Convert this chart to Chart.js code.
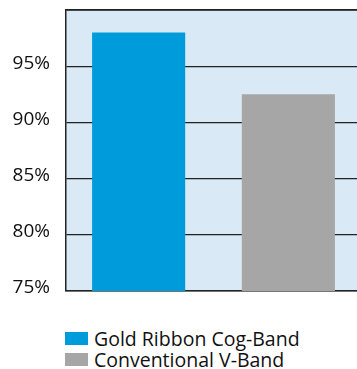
<!DOCTYPE html>
<html><head><meta charset="utf-8">
<script src="https://cdn.jsdelivr.net/npm/chart.js@4.4.1/dist/chart.umd.min.js"></script>
<style>
html,body{margin:0;padding:0;background:#fff;overflow:hidden;}
#wrap{position:relative;width:357px;height:369px;overflow:hidden;}
#cv{position:absolute;left:0;top:0;}
#legend{position:absolute;left:65px;top:328px;font-family:"Open Sans",sans-serif;font-size:19.5px;color:#111;line-height:21px;}
.item{display:flex;align-items:center;white-space:nowrap;}
.box{width:23px;height:13px;margin-right:6px;display:inline-block;}
</style></head>
<body>
<div id="wrap">
<div style="position:absolute;left:0;top:0;width:361px;height:300px;"><canvas id="cv" width="361" height="300"></canvas></div>
<div id="legend"></div>
</div>
<script>
const categories = [''];
const seriesNames = ['Gold Ribbon Cog-Band', 'Conventional V-Band'];
const cogBandValues = [98];
const vBandValues = [92.5];
const yTicks = [75, 80, 85, 90, 95, 100];
const colors = ['#009bdb', '#a6a6a6'];

const bgPlugin = {
  id: 'bg',
  beforeDraw(chart) {
    const a = chart.chartArea, ctx = chart.ctx;
    ctx.save();
    ctx.fillStyle = '#d9eaf6';
    ctx.fillRect(a.left, a.top, a.right - a.left, a.bottom - a.top);
    ctx.restore();
  },
  beforeDatasetsDraw(chart) {
    const a = chart.chartArea, ctx = chart.ctx;
    ctx.save();
    ctx.strokeStyle = '#222';
    ctx.lineWidth = 1.5;
    ctx.beginPath();
    ctx.moveTo(a.left, a.top);
    ctx.lineTo(a.right, a.top);
    ctx.stroke();
    ctx.restore();
  }
};

new Chart(document.getElementById('cv'), {
  type: 'bar',
  data: {
    labels: categories,
    datasets: [
      { label: seriesNames[0], data: cogBandValues, backgroundColor: colors[0] },
      { label: seriesNames[1], data: vBandValues, backgroundColor: colors[1] }
    ]
  },
  options: {
    responsive: false,
    animation: false,
    events: [],
    layout: { autoPadding: false, padding: { top: 10, bottom: 9, right: 0, left: 0 } },
    datasets: { bar: { categoryPercentage: 1.015, barPercentage: 0.622 } },
    plugins: { legend: { display: false }, tooltip: { enabled: false } },
    scales: {
      x: {
        ticks: { display: false },
        grid: { display: false },
        border: { display: true, color: '#222', width: 1.5 },
        afterFit(s) { s.height = 0; s.paddingLeft = 0; s.paddingRight = 0; }
      },
      y: {
        min: yTicks[0], max: yTicks[yTicks.length - 1],
        afterBuildTicks(s) { s.ticks = yTicks.map(v => ({ value: v })); },
        ticks: {
          callback: v => v === 100 ? '' : v + '%',
          font: { family: 'Open Sans', size: 19 },
          color: '#111',
          padding: 16,
          labelOffset: -3
        },
        grid: { color: '#222', lineWidth: 1.2, drawTicks: false },
        border: { display: true, color: '#222', width: 1.5 },
        afterFit(s) { s.width = 66; s.paddingTop = 0; s.paddingBottom = 0; }
      }
    }
  },
  plugins: [bgPlugin]
});

const lg = document.getElementById('legend');
seriesNames.forEach((n, i) => {
  const d = document.createElement('div');
  d.className = 'item';
  d.innerHTML = '<span class="box" style="background:' + colors[i] + '"></span><span>' + n + '</span>';
  lg.appendChild(d);
});
</script>
</body></html>
